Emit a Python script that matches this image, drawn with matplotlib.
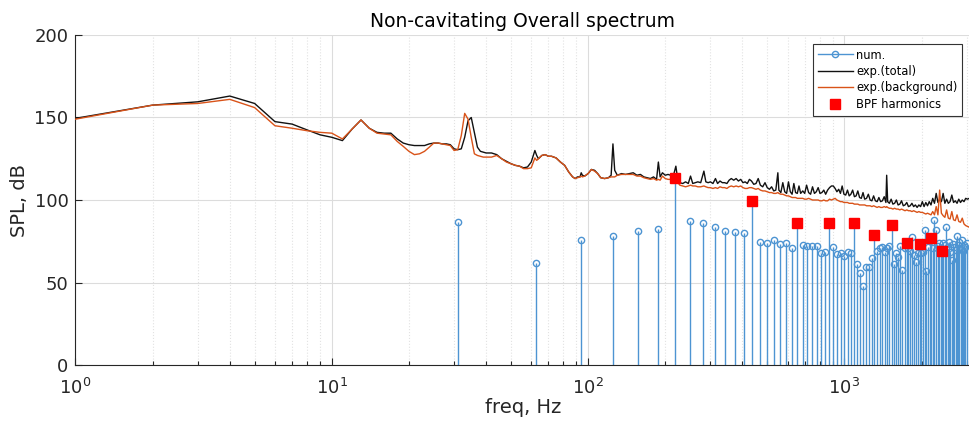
import numpy as np
import matplotlib
matplotlib.use("Agg")
import matplotlib.pyplot as plt
from matplotlib.lines import Line2D
from matplotlib.legend_handler import HandlerLine2D

plt.rcParams["font.family"] = ["DejaVu Sans"]
plt.rcParams["mathtext.default"] = "regular"

# numerical prediction: tonal levels at harmonics of shaft frequency
f_shaft = 31.2
num_spl = [86.5, 62, 75.5, 78, 81.5, 82.5, 113.5, 87, 86.3, 83.8,
           81, 80.5, 79.8, 99.5, 74.3, 73.8, 76, 73.5, 74, 71,
           85.8, 73, 72.1, 72.3, 72.1, 67.7, 68.7, 86.3, 71.5, 67.1,
           68.1, 66.1, 68.7, 67.7, 85.9, 61.2, 55.5, 47.9, 59.4, 59.6,
           64.8, 78.8, 69.3, 70.9, 71.3, 68.5, 70.9, 72.1, 85, 61.2,
           68.1, 65.3, 72.1, 57.4, 71.1, 73.7, 71.1, 68.9, 77.8, 66.7,
           62.6, 67.7, 73.3, 68.1, 68.5, 81.8, 57, 71.7, 75.4, 77.2,
           70.7, 87.9, 81.8, 72, 74.1, 70.5, 69.2, 74.1, 72.7, 83.4,
           70.1, 74.7, 68.7, 63.6, 73.3, 71.7, 69.7, 78.2, 72.7, 74.7,
           70.5, 76, 69, 73, 71.5, 74]

# blade passing frequency harmonics (7 blades)
bpf_order = [7, 14, 21, 28, 35, 42, 49, 56, 63, 70, 77]
bpf_spl = [113.5, 99.5, 85.8, 86.3, 85.9, 78.8, 85, 73.7, 73.3, 77.2, 69.2]

# measured spectra
exp_freq = [1, 2, 3, 4, 5, 6, 7, 8, 9, 10, 11, 12, 13, 14, 15, 16, 17, 18, 19, 20,
            21, 22, 23, 24, 25, 26, 27, 28, 29, 30, 31, 32, 33, 34, 35, 36, 37, 38, 39, 40,
            42, 44, 46, 48, 50, 52, 54, 56, 58, 60, 62, 63, 64, 66, 68, 70, 72, 75, 78, 81,
            84, 87, 89, 91, 93, 94, 95, 97, 100, 103, 106, 109, 112, 116, 120, 123, 125, 127, 130, 135,
            140, 145, 150, 155, 160, 165, 170, 175, 180, 185, 188, 191, 195, 200, 205, 210, 215, 220, 223, 228,
            234, 240, 246, 251, 256, 262, 268, 275, 283, 288, 294, 300, 307, 314, 320, 327, 334, 341, 348, 355,
            362, 370, 378, 386, 394, 402, 410, 418, 426, 434, 443, 452, 461, 470, 480, 490, 500, 510, 520, 530,
            540, 550, 555, 565, 575, 585, 595, 605, 615, 625, 635, 645, 655, 665, 675, 688, 700, 712, 725, 738,
            751, 764, 777, 790, 803, 817, 831, 845, 860, 875, 890, 905, 920, 935, 950, 965, 980, 996, 1012, 1028,
            1044, 1060, 1077, 1094, 1111, 1128, 1146, 1164, 1182, 1200, 1220, 1240, 1260, 1280, 1300, 1321, 1342, 1363, 1385, 1407,
            1430, 1452, 1462, 1475, 1498, 1522, 1546, 1570, 1595, 1620, 1645, 1671, 1697, 1724, 1751, 1778, 1806, 1834, 1863, 1892,
            1922, 1952, 1983, 2014, 2046, 2078, 2110, 2143, 2177, 2211, 2246, 2281, 2317, 2353, 2390, 2428, 2466, 2505, 2544, 2584,
            2625, 2666, 2708, 2751, 2794, 2838, 2883, 2928, 2974, 3020, 3070]

exp_total = [149.5, 157.5, 159.5, 163, 158.5, 147.5, 146, 142.5, 139.5, 138, 136, 143, 148.5, 143.5, 141, 140.5, 140.5, 137, 134.5, 133.5,
             133, 133, 133, 134, 134.5, 134.5, 134, 134, 133.5, 131, 130.5, 131, 138, 148, 150, 141, 132, 129.5, 129, 128.5,
             128.5, 127.5, 125, 123.5, 122, 121, 120.5, 119.5, 120, 123, 130, 127, 125, 127, 127.5, 126.5, 126.5, 125.5, 123, 121,
             117, 114, 113, 114, 114, 116.5, 115, 114.5, 116, 118.5, 118, 116, 113.5, 113, 113.5, 115, 134, 118, 115, 116,
             115.5, 116, 116.5, 115, 115.5, 114, 113.5, 113, 114, 112.5, 123, 114, 116.5, 115, 115.5, 115, 114.5, 120.5, 114, 110.5,
             110, 111, 110, 114.5, 110, 110.5, 111, 110.5, 117.5, 111, 110.5, 111, 110, 113, 110, 111.5, 110.5, 110.5, 110, 112,
             113, 112, 113, 111.5, 112.5, 110.5, 111, 110, 112.5, 111.5, 109.5, 110, 113, 109, 108, 110.5, 107.5, 106.5, 108, 105.5,
             106, 116.5, 106, 104.5, 110.5, 105, 104, 111, 105, 103.5, 110, 104.5, 104, 108.5, 104, 105.5, 104, 109, 104.5, 103.5,
             108, 104, 105, 107.5, 104, 104.5, 106, 103.5, 106, 107.5, 108.5, 108.5, 107, 105, 106.5, 104, 108.5, 103.5, 103, 106,
             102.5, 103.5, 106, 102, 102.5, 105.5, 101.5, 101, 104.5, 100.5, 101, 103.5, 100, 99.5, 102.5, 99.5, 99, 101.5, 99, 99.5,
             102, 98.5, 115, 99, 98, 100.5, 97.5, 98, 100, 97, 97.5, 99.5, 96.5, 97, 98.5, 96, 96.5, 98, 96, 97,
             95.5, 97, 96, 99, 96, 98.5, 96.5, 99, 97, 101, 98, 104, 98.5, 100.5, 99, 104, 98, 100.5, 98, 99,
             103, 98.5, 99.5, 98, 100.5, 98.5, 100, 99, 101, 100.5, 101]

exp_background = [149, 157.5, 158.5, 161, 156, 145, 143.5, 142, 141, 140.5, 137, 143, 148.5, 143.5, 140.5, 140, 139.5, 135.5, 132.5, 129.5,
                  127.5, 128, 129.5, 132, 134.5, 134.5, 134, 133.5, 133, 130, 130.5, 139, 152.5, 149, 138, 128, 127, 126.5, 126, 126,
                  126, 127, 125, 123, 122, 121, 120.5, 119, 119, 119.5, 125.5, 124, 125, 127, 127.5, 126.5, 126.5, 125.5, 123, 121,
                  117, 114, 113, 113.5, 114, 114.5, 114, 114.5, 116, 118.5, 117.5, 116, 113.5, 113, 113.5, 114, 114, 114, 115, 115.5,
                  115.5, 115.5, 115.5, 114.5, 114.5, 113.5, 113, 112.5, 113, 112, 112.5, 112, 114.5, 113, 112.5, 112.5, 112, 111.5, 111, 109,
                  108.5, 108, 108.5, 109, 108.5, 108.5, 108, 108, 108.5, 108, 107.5, 107.5, 107, 107.5, 107, 108, 107.5, 107.5, 107, 108,
                  108.5, 108, 108.5, 108, 108.5, 107.5, 107, 107, 107.5, 107.5, 107, 106.5, 107, 106, 105.5, 105.5, 105, 104.5, 104.5, 104,
                  104, 104.5, 104, 103.5, 103.5, 103, 102.5, 102.5, 102, 101.5, 101.5, 101.5, 101, 101, 101, 101, 100.5, 100.5, 101, 100.5,
                  100, 100, 100, 100, 99.5, 99.5, 100, 99.5, 99.5, 100.5, 100, 100.5, 101, 100, 99.5, 99, 99, 98.5, 98.5, 98.5,
                  98, 98, 98, 97.5, 97.5, 97.5, 97, 97, 97, 97, 96.5, 96.5, 96.5, 96, 96.5, 96, 95.5, 96, 95.5, 95.5,
                  96, 95.5, 96, 95.5, 95, 95, 94.5, 95, 94.5, 94.5, 94, 94.5, 94, 93.5, 94, 93.5, 93.5, 93, 93.5, 93,
                  92.5, 93, 92.5, 92.5, 92, 91.5, 92, 91.5, 91, 93, 91, 96, 91, 106, 92, 90.5, 89.5, 94, 89, 88.5,
                  93, 88, 87.5, 91, 87, 86.5, 89, 85.5, 84.5, 84, 83.5]

stem_color = "#4d94d2"
dark = "#262626"

fig = plt.figure(figsize=(9.7, 4.23), dpi=100)
ax = fig.add_axes([75.5 / 970, 58 / 423, 894.5 / 970, 330 / 423])

harm_freq = f_shaft * np.arange(1, len(num_spl) + 1)
ax.vlines(harm_freq, 0, num_spl, color=stem_color, linewidth=1.0, zorder=2)
ax.plot(harm_freq, num_spl, linestyle="none", marker="o", markersize=4.5,
        markerfacecolor="none", markeredgecolor=stem_color, markeredgewidth=1.0, zorder=2)

ax.plot(exp_freq, exp_total, color="#111111", linewidth=1.0, zorder=3)
ax.plot(exp_freq, exp_background, color="#d95319", linewidth=1.0, zorder=3)

bpf_freq = f_shaft * np.array(bpf_order)
ax.plot(bpf_freq, bpf_spl, linestyle="none", marker="s", markersize=7.5,
        color="#ff0000", zorder=4)

ax.set_xscale("log")
ax.set_xlim(1, 10 ** (894.5 / 256.3))
ax.set_ylim(0, 200)
ax.set_yticks([0, 50, 100, 150, 200])

ax.grid(True, which="major", color="#dcdcdc", linewidth=0.8)
ax.grid(True, which="minor", axis="x", color="#e2e2e2", linewidth=0.8, linestyle=":")
ax.set_axisbelow(True)

for s in ["top", "right"]:
    ax.spines[s].set_visible(False)
for s in ["left", "bottom"]:
    ax.spines[s].set_color(dark)
    ax.spines[s].set_linewidth(0.8)
ax.tick_params(which="both", direction="in", colors=dark, labelsize=13, width=0.8)
ax.tick_params(which="major", length=5)
ax.tick_params(which="minor", length=3)
ax.tick_params(axis="x", pad=9)
ax.tick_params(axis="y", pad=5)

ax.set_title("Non-cavitating Overall spectrum", fontsize=13.5, color="black", pad=6)
ax.set_xlabel("freq, Hz", fontsize=14, color=dark, labelpad=0)
ax.set_ylabel("SPL, dB", fontsize=14, color=dark, labelpad=4)


class StemHandler(HandlerLine2D):
    def get_xdata(self, legend, xdescent, ydescent, width, height, fontsize):
        xdata, _ = super().get_xdata(legend, xdescent, ydescent, width, height, fontsize)
        return xdata, [xdata[-1]]


h_num = Line2D([], [], color=stem_color, marker="o", markersize=4.5,
               markerfacecolor="none", markeredgewidth=1.0, linewidth=1.0)
h_tot = Line2D([], [], color="#111111", linewidth=1.0)
h_bg = Line2D([], [], color="#d95319", linewidth=1.0)
h_bpf = Line2D([], [], linestyle="none", marker="s", markersize=7.5, color="#ff0000")
leg = ax.legend([h_num, h_tot, h_bg, h_bpf],
                ["num.", "exp.(total)", "exp.(background)", "BPF harmonics"],
                loc="upper right", bbox_to_anchor=(0.991, 0.973), borderaxespad=0,
                fontsize=8.3, handlelength=3.0, handletextpad=0.3, labelspacing=0.3,
                borderpad=0.4, fancybox=False, framealpha=1, edgecolor="#333333",
                handler_map={h_num: StemHandler(numpoints=1)})
leg.get_frame().set_linewidth(0.8)

fig.savefig("out.png", dpi=100)
